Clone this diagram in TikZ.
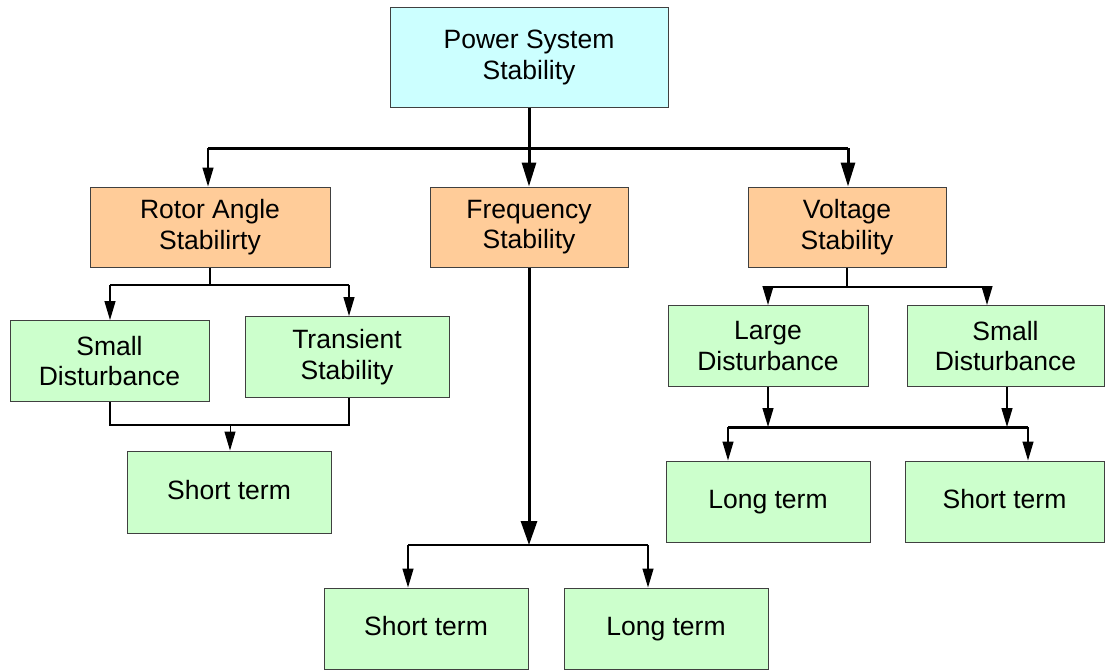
\documentclass[tikz,border=0pt]{standalone}
\usepackage{fontspec}
\setmainfont{Liberation Sans}
\usetikzlibrary{arrows.meta}
\definecolor{skyfill}{HTML}{CCFFFF}
\definecolor{peachfill}{HTML}{FFCC99}
\definecolor{mintfill}{HTML}{CCFFCC}
\definecolor{boxline}{HTML}{404040}
\tikzset{
  box/.style={draw=boxline, line width=1pt, align=center, inner sep=0pt,
    font=\fontsize{26.5}{30.5}\selectfont},
  topbox/.style={box, fill=skyfill, minimum width=278pt, minimum height=99pt},
  midbox/.style={box, fill=peachfill, minimum width=198pt, minimum height=80pt},
  leafbox/.style={box, fill=mintfill, minimum width=204pt, minimum height=81pt},
  oneline/.style={text height=19pt, text depth=5pt},
  bus/.style={line width=3pt},
  midline/.style={line width=2.2pt},
  thinline/.style={line width=1.2pt},
  bigarr/.style={line width=3pt, -{Triangle[width=14pt,length=24pt]}},
  arr/.style={line width=1.3pt, -{Triangle[width=11pt,length=19pt]}}
}
\begin{document}
\begin{tikzpicture}[x=1pt,y=-1pt]
  \useasboundingbox (0,0) rectangle (1105,669);
  % boxes
  \node[topbox] (pss) at (529,57.5) {Power System\\Stability};
  \node[midbox, minimum width=240pt] (rotor) at (210,227) {Rotor Angle\\Stabilirty};
  \node[midbox] (freq) at (529,227) {Frequency\\Stability};
  \node[midbox] (volt) at (847,227) {Voltage\\Stability};
  \node[leafbox, minimum width=199pt] (sdl) at (109.5,361) {Small\\Disturbance};
  \node[leafbox] (trans) at (347,357) {Transient\\Stability};
  \node[leafbox, oneline, minimum height=82pt] (stl) at (229,492) {Short term};
  \node[leafbox, minimum width=200pt] (large) at (768,346) {Large\\Disturbance};
  \node[leafbox, minimum width=197pt] (sdr) at (1005.5,346) {Small\\Disturbance};
  \node[leafbox, oneline] (ltr) at (768,501.5) {Long term};
  \node[leafbox, oneline, minimum width=199pt] (str) at (1004.5,501.5) {Short term};
  \node[leafbox, oneline] (stb) at (426,628.5) {Short term};
  \node[leafbox, oneline] (ltb) at (666,628.5) {Long term};
  % level 1
  \coordinate (pj) at (529,148);
  \coordinate (pl) at (208,148);
  \coordinate (pr) at (848,148);
  \draw[bus] (pss.south) -- (pj);
  \draw[bus] (pl) -- (pr);
  \draw[arr] (pl) -- (pl |- rotor.north);
  \draw[bigarr] (pj) -- (freq.north);
  \draw[bigarr] (pr) -- (pr |- volt.north);
  % rotor angle branch
  \coordinate (rj) at (210,285);
  \coordinate (rl) at (110,285);
  \coordinate (rr) at (349,285);
  \draw[thinline] (rotor.south) -- (rj);
  \draw[midline] (rl) -- (rr);
  \draw[arr] (rl) -- (rl |- sdl.north);
  \draw[arr] (rr) -- (rr |- trans.north);
  \coordinate (ml) at (110,425);
  \coordinate (mr) at (349,425);
  \coordinate (mj) at (230,425);
  \draw[midline, line width=2.6pt] (ml |- sdl.south) -- (ml) -- (mr) -- (mr |- trans.south);
  \draw[arr, line width=1pt] (mj) -- (mj |- stl.north);
  % frequency branch
  \coordinate (fj) at (529,545);
  \coordinate (fl) at (408,545);
  \coordinate (fr) at (648,545);
  \draw[bigarr, -{Triangle[width=16pt,length=24pt]}] (freq.south) -- (fj);
  \draw[midline] (fl) -- (fr);
  \draw[arr] (fl) -- (fl |- stb.north);
  \draw[arr] (fr) -- (fr |- ltb.north);
  % voltage branch
  \coordinate (vj) at (847,287);
  \coordinate (vl) at (768,287);
  \coordinate (vr) at (987,287);
  \draw[thinline] (volt.south) -- (vj);
  \draw[thinline] (vl) -- (vr);
  \draw[arr] (vl) -- (large.north);
  \draw[arr] (vr) -- (vr |- sdr.north);
  \coordinate (la) at (768,427);
  \coordinate (sa) at (1007,427);
  \coordinate (ll) at (728,427);
  \coordinate (lr) at (1028,427);
  \draw[arr] (large.south) -- (la);
  \draw[arr] (sa |- sdr.south) -- (sa);
  \draw[bus] (ll) -- (lr);
  \draw[arr] (ll) -- (ll |- ltr.north);
  \draw[arr] (lr) -- (lr |- str.north);
\end{tikzpicture}
\end{document}
